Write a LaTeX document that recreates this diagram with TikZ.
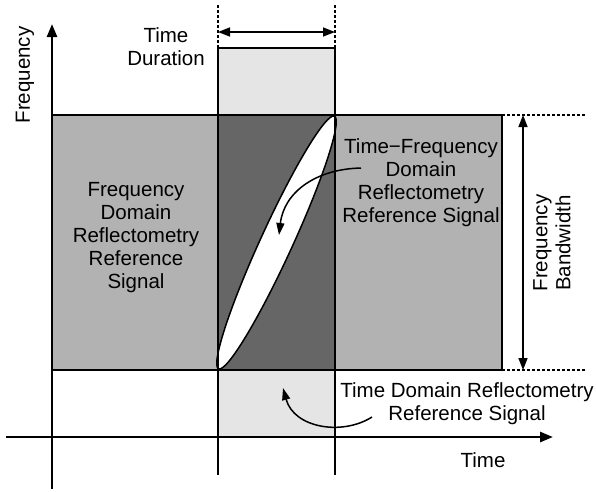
\documentclass[tikz,border=0pt]{standalone}
\usepackage{fontspec}
\setmainfont{Liberation Sans}
\usetikzlibrary{arrows.meta}

\begin{document}
\begin{tikzpicture}[
    x=1pt, y=-1pt,
    region/.style={draw, line width=1.5pt},
    axis/.style={line width=2.6pt, -{Triangle[length=13pt, width=10pt]}},
    span/.style={line width=1.6pt,
                 {Triangle[length=12pt, width=9pt]}-{Triangle[length=12pt, width=9pt]}},
    guide/.style={line width=1.2pt, dash pattern=on 3pt off 2pt},
    pointer/.style={line width=1.5pt, -{Triangle[length=12pt, width=8pt]}},
    txt/.style={font=\fontsize{20.5}{23}\selectfont, align=center}
  ]
  \useasboundingbox (0,0) rectangle (596,491);
  % Corners
  \coordinate (t0) at (218,48);
  \coordinate (t1) at (335,437);
  \coordinate (f0) at (52,115);
  \coordinate (f1) at (502,370);
  \coordinate (d0) at (218,115);
  \coordinate (d1) at (335,370);
  % Regions
  \draw[region, fill=black!10] (t0) rectangle (t1);
  \draw[region, fill=black!30] (f0) rectangle (f1);
  \draw[region, fill=black!60] (d0) rectangle (d1);
  \draw[region, fill=white, shift={(276.5,242.5)}, rotate=65.35]
        (0,0) ellipse [x radius=139, y radius=16];
  % Axes
  \draw[line width=1.5pt] (218,48) -- (218,475);
  \draw[line width=1.5pt] (335,48) -- (335,475);
  \draw[axis] (52,489) -- (52,24);
  \draw[axis] (6,437) -- (553,437);
  % Guides
  \draw[guide] (218,5) -- (t0);
  \draw[guide] (335,5) -- (335,48);
  \draw[guide] (f1 |- f0) -- (585,115);
  \draw[guide] (f1) -- (585,370);
  \draw[span] (218,32) -- (335,32);
  \draw[span] (523,115) -- (523,370);
  % Labels
  \node[txt] (dur) at (166,47) {Time\\Duration};
  \node[txt, rotate=90] (freq) at (25,75) {Frequency};
  \node[txt] (time) at (483,460) {Time};
  \node[txt, rotate=90] (bw) at (552,243) {Frequency\\Bandwidth};
  \node[txt] (fdr) at (136,238)
        {Frequency\\Domain\\Reflectometry\\Reference\\Signal};
  \node[txt] (tfdr) at (421,182.5)
        {Time−Frequency\\Domain\\Reflectometry\\Reference Signal};
  \node[txt] (tdr) at (467,404)
        {Time Domain Reflectometry\\Reference Signal};
  % Pointers
  \coordinate (tfdr-in) at (361,168);
  \coordinate (tfdr-tip) at (279,235);
  \coordinate (tdr-in) at (372,417);
  \coordinate (tdr-tip) at (283,388);
  \draw[pointer] (tfdr-in) .. controls (316,169) and (284,192) .. (tfdr-tip);
  \draw[pointer] (tdr-in) .. controls (342,436) and (294,428) .. (tdr-tip);
\end{tikzpicture}
\end{document}
